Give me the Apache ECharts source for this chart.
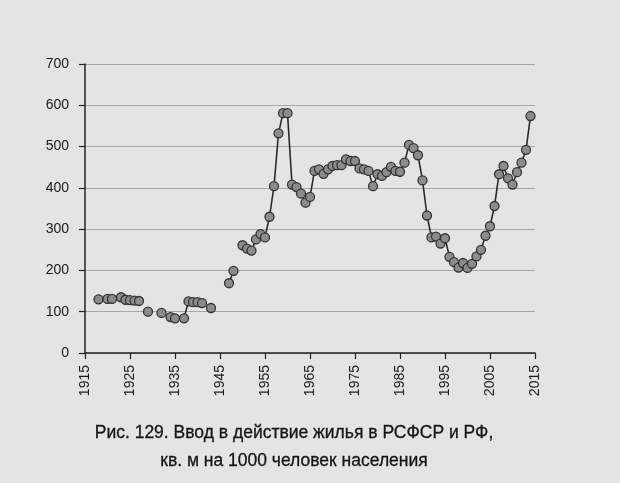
<!DOCTYPE html>
<html>
<head>
<meta charset="utf-8">
<script src="https://cdn.jsdelivr.net/npm/echarts@6/dist/echarts.min.js"></script>
<style>
html,body{margin:0;padding:0;background:#e4e4e4;}
#c{width:620px;height:483px;}
</style>
</head>
<body>
<div id="c"></div>
<script>
const firstYear = 1918;
const values = [
  130, null, 131, 131, null, 135, 129, 128, 127, 126,          // 1918-1927
  null, 100, null, null, 97, null, 87, 84, null, 84,           // 1928-1937
  125, 123, 123, 121, null, 109, null, null, null, 169,        // 1938-1947
  199, null, 261, 253, 248, 275, 288, 280, 330, 404,           // 1948-1957
  532, 581, 581, 408, 402, 386, 364, 378, 441, 445,            // 1958-1967
  434, 445, 453, 455, 455, 469, 465, 465, 447, 445,            // 1968-1977
  441, 404, 433, 429, 438, 451, 441, 439, 461, 504,            // 1978-1987
  496, 479, 418, 333, 280, 282, 265, 278, 233, 220,            // 1988-1997
  207, 218, 206, 216, 234, 250, 284, 307, 356, 433,            // 1998-2007
  453, 423, 408, 438, 461, 492, 574                            // 2008-2014
];
const years = values.map((v, i) => firstYear + i);
const xTicks = [1915, 1925, 1935, 1945, 1955, 1965, 1975, 1985, 1995, 2005, 2015];
const yTicks = [0, 100, 200, 300, 400, 500, 600, 700];
const titleLines = ['Рис. 129. Ввод в действие жилья в РСФСР и РФ,', 'кв. м на 1000 человек населения'];

const chart = echarts.init(document.getElementById('c'), null, {renderer: 'canvas'});
const font = '"Liberation Sans", Arial, sans-serif';
chart.setOption({
  backgroundColor: '#e4e4e4',
  animation: false,
  grid: {left: 85, right: 85, top: 64, bottom: 130, containLabel: false},
  graphic: titleLines.map((t, i) => ({
    type: 'text',
    x: 294,
    y: 442 + i * 28,
    style: {
      text: t,
      fontFamily: font,
      fontSize: 17.5,
      fill: '#151515',
      stroke: '#151515',
      lineWidth: 0.3,
      textAlign: 'center',
      textVerticalAlign: 'bottom',
      verticalAlign: 'bottom'
    }
  })),
  xAxis: {
    type: 'value',
    min: xTicks[0], max: xTicks[xTicks.length - 1], interval: 10,
    axisLine: {show: true, lineStyle: {color: '#222', width: 1.5}},
    axisTick: {show: true, inside: false, length: 6, lineStyle: {color: '#222', width: 1.2}},
    axisLabel: {rotate: 90, margin: 12, fontFamily: font, fontSize: 14, color: '#1a1a1a',
                formatter: v => String(v)},
    splitLine: {show: false}
  },
  yAxis: {
    type: 'value',
    min: yTicks[0], max: yTicks[yTicks.length - 1], interval: 100,
    axisLine: {show: true, lineStyle: {color: '#222', width: 1.5}},
    axisTick: {show: true, inside: false, length: 6, lineStyle: {color: '#222', width: 1.2}},
    axisLabel: {margin: 16, fontFamily: font, fontSize: 14, color: '#1a1a1a'},
    splitLine: {show: true, lineStyle: {color: '#a8a8a8', width: 1}}
  },
  series: [{
    type: 'line',
    data: years.map((y, i) => [y, values[i] === null ? '-' : values[i]]),
    connectNulls: false,
    symbol: 'circle',
    symbolSize: 9,
    showAllSymbol: true,
    lineStyle: {color: '#2a2a2a', width: 1.6},
    itemStyle: {color: '#8c8c8c', borderColor: '#333', borderWidth: 1.3}
  }]
});
</script>
</body>
</html>
